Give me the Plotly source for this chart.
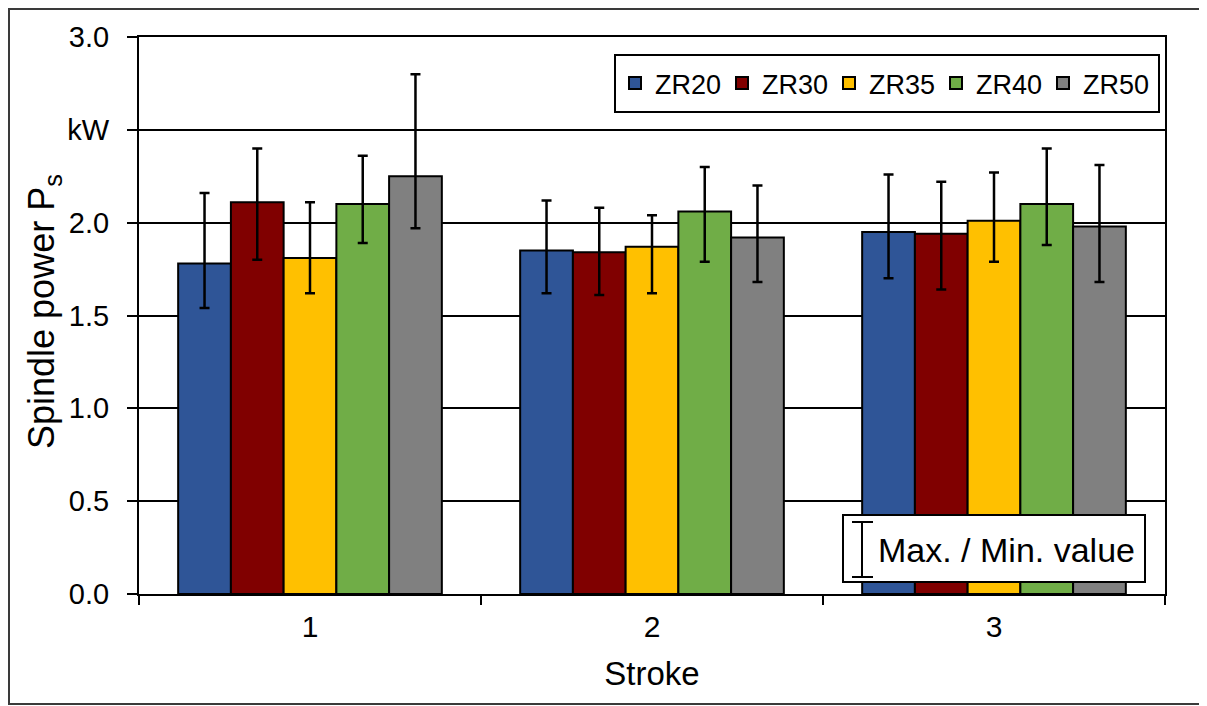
import plotly.graph_objects as go

# ---------------- data ----------------
strokes = ["1", "2", "3"]
series_names = ["ZR20", "ZR30", "ZR35", "ZR40", "ZR50"]
series_colors = ["#2F5597", "#800000", "#FFC000", "#70AD47", "#808080"]

zr20_mean = [1.78, 1.85, 1.95]
zr20_max = [2.16, 2.12, 2.26]
zr20_min = [1.54, 1.62, 1.70]

zr30_mean = [2.11, 1.84, 1.94]
zr30_max = [2.40, 2.08, 2.22]
zr30_min = [1.80, 1.61, 1.64]

zr35_mean = [1.81, 1.87, 2.01]
zr35_max = [2.11, 2.04, 2.27]
zr35_min = [1.62, 1.62, 1.79]

zr40_mean = [2.10, 2.06, 2.10]
zr40_max = [2.36, 2.30, 2.40]
zr40_min = [1.89, 1.79, 1.88]

zr50_mean = [2.25, 1.92, 1.98]
zr50_max = [2.80, 2.20, 2.31]
zr50_min = [1.97, 1.68, 1.68]

y_tickvals = [0.0, 0.5, 1.0, 1.5, 2.0, 2.5, 3.0]
y_ticktext = ["0.0", "0.5", "1.0", "1.5", "2.0", "kW", "3.0"]

means = [zr20_mean, zr30_mean, zr35_mean, zr40_mean, zr50_mean]
maxs = [zr20_max, zr30_max, zr35_max, zr40_max, zr50_max]
mins = [zr20_min, zr30_min, zr35_min, zr40_min, zr50_min]

# ---------------- layout geometry (screen pixels) ----------------
# the html page has an 8px body margin, so the figure is shrunk by 8px
OFF = 8
W, H = 1207 - OFF, 706 - OFF
L, R, T, B = 139, 1165, 37, 594
PW, PH = R - L, B - T


def px(x):
    return (x - L) / PW


def py(y):
    return (B - y) / PH


FONT = "Liberation Sans, Arial, sans-serif"

fig = go.Figure()
for name, color, m, hi, lo in zip(series_names, series_colors, means, maxs, mins):
    fig.add_trace(go.Bar(
        name=name,
        x=strokes,
        y=m,
        marker=dict(color=color, line=dict(color="black", width=2)),
        error_y=dict(
            type="data",
            symmetric=False,
            array=[h - v for h, v in zip(hi, m)],
            arrayminus=[v - l for v, l in zip(m, lo)],
            color="black",
            thickness=2.5,
            width=5,
        ),
    ))

shapes = []
# outer frame of picture
shapes.append(dict(type="rect", xref="paper", yref="paper",
                   x0=px(OFF + 1), x1=px(1205), y0=py(704), y1=py(OFF + 1),
                   line=dict(color="#3a3a3a", width=2), fillcolor="rgba(0,0,0,0)",
                   layer="below"))
# legend box
shapes.append(dict(type="rect", xref="paper", yref="paper",
                   x0=px(615), x1=px(1159), y0=py(112), y1=py(55),
                   line=dict(color="black", width=2), fillcolor="white",
                   layer="above"))
# Max/Min box
shapes.append(dict(type="rect", xref="paper", yref="paper",
                   x0=px(843), x1=px(1145), y0=py(582), y1=py(515),
                   line=dict(color="black", width=2), fillcolor="white",
                   layer="above"))
# error-bar icon
shapes.append(dict(type="line", xref="paper", yref="paper",
                   x0=px(862), x1=px(862), y0=py(577), y1=py(522),
                   line=dict(color="black", width=2), layer="above"))
shapes.append(dict(type="line", xref="paper", yref="paper",
                   x0=px(852), x1=px(873), y0=py(522), y1=py(522),
                   line=dict(color="black", width=2), layer="above"))
shapes.append(dict(type="line", xref="paper", yref="paper",
                   x0=px(852), x1=px(873), y0=py(577), y1=py(577),
                   line=dict(color="black", width=2), layer="above"))

annotations = [
    dict(text="Max. / Min. value", xref="paper", yref="paper",
         x=px(876), y=py(550), xanchor="left", yanchor="middle",
         showarrow=False, font=dict(family=FONT, size=34, color="black")),
    dict(text="Spindle power P<sub>s</sub>", xref="paper", yref="paper",
         x=px(44), y=py(312), xanchor="center", yanchor="middle", textangle=-90,
         showarrow=False, font=dict(family=FONT, size=36, color="black")),
]

fig.update_layout(
    width=W, height=H,
    margin=dict(l=L - OFF, r=1207 - R, t=T - OFF, b=706 - B, pad=0),
    paper_bgcolor="white", plot_bgcolor="white",
    barmode="group", bargap=0.229, bargroupgap=0,
    font=dict(family=FONT, size=28, color="black"),
    showlegend=True,
    legend=dict(
        orientation="h", x=px(615), y=py(83.5), xanchor="left", yanchor="middle",
        bgcolor="rgba(0,0,0,0)", borderwidth=0,
        font=dict(family=FONT, size=27, color="black"),
        entrywidth=62, itemwidth=30, traceorder="normal",
    ),
    shapes=shapes,
    annotations=annotations,
    xaxis=dict(
        type="category",
        showline=True, linecolor="black", linewidth=2, mirror=True,
        ticks="outside", tickson="boundaries", ticklen=9, tickwidth=2, tickcolor="black",
        showgrid=False,
        tickfont=dict(family=FONT, size=30),
        ticklabelstandoff=5,
        title=dict(text="Stroke", font=dict(family=FONT, size=33), standoff=20),
    ),
    yaxis=dict(
        range=[0, 3],
        tickvals=y_tickvals, ticktext=y_ticktext,
        showline=True, linecolor="black", linewidth=2, mirror=True,
        ticks="outside", ticklen=10, tickwidth=2, tickcolor="black",
        showgrid=True, gridcolor="black", gridwidth=2,
        zeroline=False,
        tickfont=dict(family=FONT, size=29),
        ticklabelstandoff=12,
    ),
)

fig.write_html("out.html")
